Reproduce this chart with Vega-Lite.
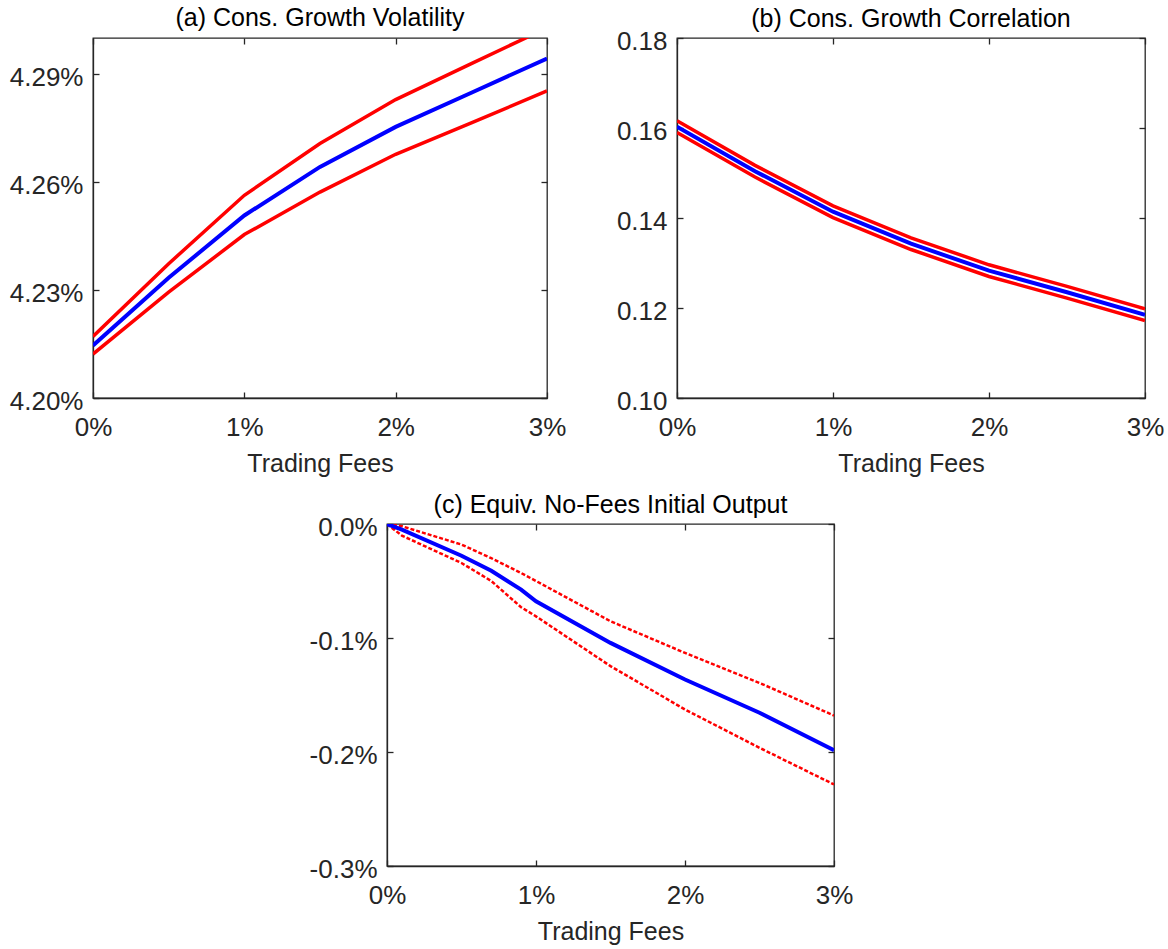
{
  "$schema": "https://vega.github.io/schema/vega-lite/v6.json",
  "autosize": {"type": "none"},
  "padding": {"left": 93, "top": 38, "right": 1075, "bottom": 911},
  "background": "white",
  "datasets": {
    "a": [
      {"fee": 0, "series": "mean", "v": 0.042146},
      {"fee": 0.005, "series": "mean", "v": 0.042334},
      {"fee": 0.01, "series": "mean", "v": 0.042507},
      {"fee": 0.015, "series": "mean", "v": 0.042642},
      {"fee": 0.02, "series": "mean", "v": 0.042753},
      {"fee": 0.025, "series": "mean", "v": 0.042848},
      {"fee": 0.03, "series": "mean", "v": 0.042943},
      {"fee": 0, "series": "upper", "v": 0.042171},
      {"fee": 0.005, "series": "upper", "v": 0.042373},
      {"fee": 0.01, "series": "upper", "v": 0.042563},
      {"fee": 0.015, "series": "upper", "v": 0.042707},
      {"fee": 0.02, "series": "upper", "v": 0.042829},
      {"fee": 0.025, "series": "upper", "v": 0.042929},
      {"fee": 0.03, "series": "upper", "v": 0.043028},
      {"fee": 0, "series": "lower", "v": 0.042122},
      {"fee": 0.005, "series": "lower", "v": 0.042294},
      {"fee": 0.01, "series": "lower", "v": 0.042454},
      {"fee": 0.015, "series": "lower", "v": 0.042572},
      {"fee": 0.02, "series": "lower", "v": 0.042677},
      {"fee": 0.025, "series": "lower", "v": 0.042764},
      {"fee": 0.03, "series": "lower", "v": 0.042853}
    ],
    "b": [
      {"fee": 0, "series": "mean", "v": 0.1603},
      {"fee": 0.005, "series": "mean", "v": 0.1504},
      {"fee": 0.01, "series": "mean", "v": 0.1414},
      {"fee": 0.015, "series": "mean", "v": 0.1343},
      {"fee": 0.02, "series": "mean", "v": 0.1283},
      {"fee": 0.025, "series": "mean", "v": 0.1235},
      {"fee": 0.03, "series": "mean", "v": 0.1185},
      {"fee": 0, "series": "upper", "v": 0.1616},
      {"fee": 0.005, "series": "upper", "v": 0.1517},
      {"fee": 0.01, "series": "upper", "v": 0.1427},
      {"fee": 0.015, "series": "upper", "v": 0.1356},
      {"fee": 0.02, "series": "upper", "v": 0.1296},
      {"fee": 0.025, "series": "upper", "v": 0.1248},
      {"fee": 0.03, "series": "upper", "v": 0.1198},
      {"fee": 0, "series": "lower", "v": 0.1590},
      {"fee": 0.005, "series": "lower", "v": 0.1491},
      {"fee": 0.01, "series": "lower", "v": 0.1401},
      {"fee": 0.015, "series": "lower", "v": 0.1330},
      {"fee": 0.02, "series": "lower", "v": 0.1270},
      {"fee": 0.025, "series": "lower", "v": 0.1222},
      {"fee": 0.03, "series": "lower", "v": 0.1172}
    ],
    "c": [
      {"fee": 0, "series": "mean", "v": 0},
      {"fee": 0.001, "series": "mean", "v": -0.00005},
      {"fee": 0.005, "series": "mean", "v": -0.000278},
      {"fee": 0.007, "series": "mean", "v": -0.00041},
      {"fee": 0.009, "series": "mean", "v": -0.000576},
      {"fee": 0.01, "series": "mean", "v": -0.000678},
      {"fee": 0.015, "series": "mean", "v": -0.001043},
      {"fee": 0.02, "series": "mean", "v": -0.001364},
      {"fee": 0.025, "series": "mean", "v": -0.001656},
      {"fee": 0.03, "series": "mean", "v": -0.001984},
      {"fee": 0, "series": "upper", "v": 0},
      {"fee": 0.001, "series": "upper", "v": -0.00002},
      {"fee": 0.005, "series": "upper", "v": -0.00018},
      {"fee": 0.007, "series": "upper", "v": -0.0003},
      {"fee": 0.009, "series": "upper", "v": -0.00043},
      {"fee": 0.01, "series": "upper", "v": -0.0005},
      {"fee": 0.015, "series": "upper", "v": -0.000853},
      {"fee": 0.02, "series": "upper", "v": -0.001131},
      {"fee": 0.025, "series": "upper", "v": -0.001394},
      {"fee": 0.03, "series": "upper", "v": -0.00168},
      {"fee": 0, "series": "lower", "v": 0},
      {"fee": 0.001, "series": "lower", "v": -0.000102},
      {"fee": 0.005, "series": "lower", "v": -0.000342},
      {"fee": 0.007, "series": "lower", "v": -0.0005},
      {"fee": 0.009, "series": "lower", "v": -0.00073},
      {"fee": 0.01, "series": "lower", "v": -0.00081},
      {"fee": 0.015, "series": "lower", "v": -0.001247},
      {"fee": 0.02, "series": "lower", "v": -0.001627},
      {"fee": 0.025, "series": "lower", "v": -0.001963},
      {"fee": 0.03, "series": "lower", "v": -0.002285}
    ]
  },
  "bounds": "flush",
  "spacing": 486,
  "vconcat": [
    {
      "bounds": "flush",
      "spacing": 130,
      "hconcat": [
        {
          "width": 454,
          "height": 360,
          "data": {"name": "a"},
          "title": {"text": "(a) Cons. Growth Volatility", "offset": 6},
          "layer": [
            {
              "transform": [{"filter": "datum.series != 'mean'"}],
              "mark": {"type": "line", "color": "#ff0000", "strokeWidth": 3.5, "clip": true},
              "encoding": {
                "x": {"field": "fee", "type": "quantitative", "scale": {"domain": [0, 0.03], "nice": false}, "axis": {"format": ".0%", "values": [0, 0.01, 0.02, 0.03], "title": "Trading Fees"}},
                "y": {"field": "v", "type": "quantitative", "scale": {"domain": [0.042, 0.043], "nice": false, "zero": false}, "axis": {"format": ".2%", "values": [0.042, 0.0423, 0.0426, 0.0429], "title": null}},
                "detail": {"field": "series"}
              }
            },
            {
              "transform": [{"filter": "datum.series == 'mean'"}],
              "mark": {"type": "line", "color": "#0000ff", "strokeWidth": 4, "clip": true},
              "encoding": {
                "x": {"field": "fee", "type": "quantitative", "axis": {"orient": "top", "labels": false, "domain": false, "values": [0, 0.01, 0.02, 0.03], "title": null}},
                "y": {"field": "v", "type": "quantitative", "axis": {"orient": "right", "labels": false, "domain": false, "values": [0.042, 0.0423, 0.0426, 0.0429], "title": null}}
              }
            }
          ],
          "resolve": {"axis": {"x": "independent", "y": "independent"}}
        },
        {
          "width": 468,
          "height": 360,
          "data": {"name": "b"},
          "title": {"text": "(b) Cons. Growth Correlation", "offset": -4},
          "layer": [
            {
              "transform": [{"filter": "datum.series != 'mean'"}],
              "mark": {"type": "line", "color": "#ff0000", "strokeWidth": 3.5, "clip": true},
              "encoding": {
                "x": {"field": "fee", "type": "quantitative", "scale": {"domain": [0, 0.03], "nice": false}, "axis": {"format": ".0%", "values": [0, 0.01, 0.02, 0.03], "title": "Trading Fees"}},
                "y": {"field": "v", "type": "quantitative", "scale": {"domain": [0.1, 0.18], "nice": false, "zero": false}, "axis": {"format": ".2f", "values": [0.1, 0.12, 0.14, 0.16, 0.18], "title": null}},
                "detail": {"field": "series"}
              }
            },
            {
              "transform": [{"filter": "datum.series == 'mean'"}],
              "mark": {"type": "line", "color": "#0000ff", "strokeWidth": 4, "clip": true},
              "encoding": {
                "x": {"field": "fee", "type": "quantitative", "axis": {"orient": "top", "labels": false, "domain": false, "values": [0, 0.01, 0.02, 0.03], "title": null}},
                "y": {"field": "v", "type": "quantitative", "axis": {"orient": "right", "labels": false, "domain": false, "values": [0.1, 0.12, 0.14, 0.16, 0.18], "title": null}}
              }
            }
          ],
          "resolve": {"axis": {"x": "independent", "y": "independent"}}
        }
      ]
    },
    {
      "bounds": "flush",
      "spacing": 10,
      "hconcat": [
        {
          "width": 284,
          "height": 1,
          "data": {"values": []},
          "mark": "point",
          "view": {"stroke": null}
        },
        {
          "width": 447,
          "height": 342,
          "data": {"name": "c"},
          "title": {"text": "(c) Equiv. No-Fees Initial Output", "offset": -4},
          "layer": [
            {
              "transform": [{"filter": "datum.series != 'mean'"}],
              "mark": {"type": "line", "color": "#ff0000", "strokeWidth": 2.5, "strokeDash": [4, 2], "clip": true},
              "encoding": {
                "x": {"field": "fee", "type": "quantitative", "scale": {"domain": [0, 0.03], "nice": false}, "axis": {"format": ".0%", "values": [0, 0.01, 0.02, 0.03], "title": "Trading Fees"}},
                "y": {"field": "v", "type": "quantitative", "scale": {"domain": [-0.003, 0], "nice": false, "zero": false}, "axis": {"values": [-0.003, -0.002, -0.001, 0], "labelExpr": "replace(format(datum.value, '.1%'), '\u2212', '-')", "title": null}},
                "detail": {"field": "series"}
              }
            },
            {
              "transform": [{"filter": "datum.series == 'mean'"}],
              "mark": {"type": "line", "color": "#0000ff", "strokeWidth": 4, "clip": true},
              "encoding": {
                "x": {"field": "fee", "type": "quantitative", "axis": {"orient": "top", "labels": false, "domain": false, "values": [0, 0.01, 0.02, 0.03], "title": null}},
                "y": {"field": "v", "type": "quantitative", "axis": {"orient": "right", "labels": false, "domain": false, "values": [-0.003, -0.002, -0.001, 0], "title": null}}
              }
            }
          ],
          "resolve": {"axis": {"x": "independent", "y": "independent"}}
        }
      ]
    }
  ],
  "config": {
    "view": {"stroke": "#262626", "strokeWidth": 1.3},
    "axis": {
      "labelFont": "Liberation Sans",
      "labelFontSize": 26,
      "labelColor": "#262626",
      "labelFlush": false,
      "titleFont": "Liberation Sans",
      "titleFontSize": 25,
      "titleFontWeight": "normal",
      "titleColor": "#262626",
      "domainColor": "#262626",
      "domainWidth": 1.3,
      "tickColor": "#262626",
      "tickWidth": 1.3,
      "tickSize": -6,
      "grid": false
    },
    "axisX": {"labelPadding": 22, "titlePadding": 11},
    "axisY": {"labelPadding": 16, "labelOffset": 3},
    "title": {
      "font": "Liberation Sans",
      "fontSize": 25,
      "fontWeight": "normal",
      "color": "#000000",
      "anchor": "middle",
      "frame": "group"
    }
  }
}
